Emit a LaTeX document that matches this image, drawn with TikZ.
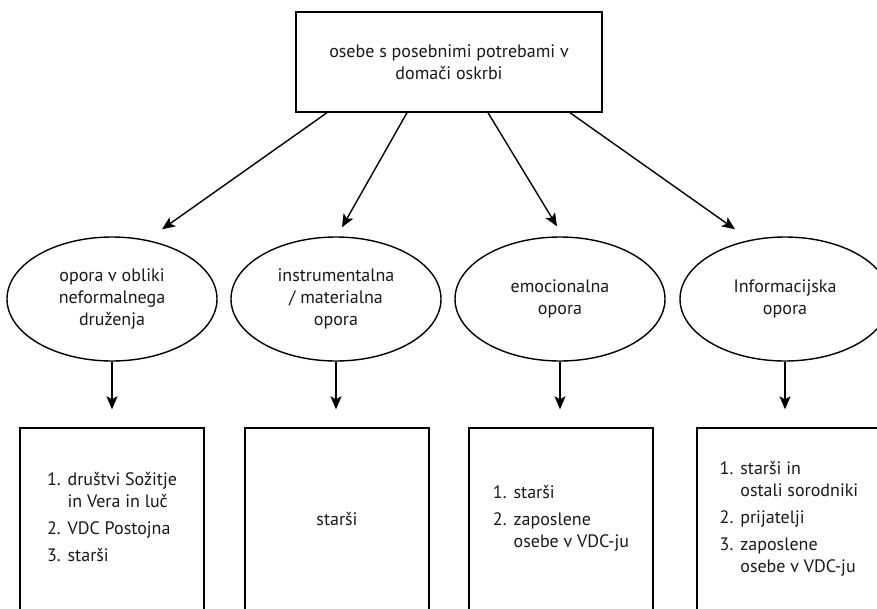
\documentclass[tikz,border=0pt]{standalone}
\usepackage{fontspec}
\setmainfont{PT Sans}
\usetikzlibrary{shapes.geometric,arrows.meta}

\tikzset{
  lbl/.style={font=\fontsize{18}{22}\selectfont, text=black!90},
  topbox/.style={draw, line width=1.4pt, minimum width=306, minimum height=100, align=center, lbl},
  oval/.style={draw, ellipse, line width=1.4pt, minimum width=210, minimum height=124, inner sep=0pt, align=center, lbl},
  listbox/.style={draw, line width=1.4pt, minimum width=184, minimum height=182, lbl},
  arr/.style={line width=1.4pt, -{Stealth[length=13pt,width=11pt,inset=3pt]}},
}
\newcommand{\itemgap}{\\[5pt]}

\begin{document}
\begin{tikzpicture}[x=1pt, y=-1pt]
  \useasboundingbox (0,0) rectangle (877,608);

  % top box
  \node[topbox] (top) at (449,62) {osebe s posebnimi potrebami v\\domači oskrbi};

  % the four kinds of support
  \node[oval] (e1) at (112,299) {opora v obliki\\neformalnega\\druženja};
  \node[oval] (e2) at (336,299) {instrumentalna\\/ materialna\\opora};
  \node[oval] (e3) at (560,299) {emocionalna\\opora};
  \node[oval] (e4) at (785,299) {Informacijska\\opora};

  % who gives it
  \node[listbox] (b1) at (112,519) {\begin{tabular}{@{}l@{\hspace{7pt}}l@{}}
      1. & društvi Sožitje\\ & in Vera in luč\itemgap
      2. & VDC Postojna\itemgap
      3. & starši\end{tabular}};
  \node[listbox] (b2) at (337,519) {starši};
  \node[listbox] (b3) at (561,519) {\begin{tabular}{@{}l@{\hspace{7pt}}l@{}}
      1. & starši\itemgap
      2. & zaposlene\\ & osebe v VDC-ju\end{tabular}};
  \node[listbox] (b4) at (789,519) {\begin{tabular}{@{}l@{\hspace{7pt}}l@{}}
      1. & starši in\\ & ostali sorodniki\itemgap
      2. & prijatelji\itemgap
      3. & zaposlene\\ & osebe v VDC-ju\end{tabular}};

  % arrows from the top box
  \draw[arr] ([xshift=-122pt]top.south) -- ([xshift=50pt,yshift=7pt]e1.north);
  \draw[arr] ([xshift=-42pt]top.south) -- ([xshift=6pt,yshift=9pt]e2.north);
  \draw[arr] ([xshift=39pt]top.south) -- ([xshift=-3pt,yshift=10pt]e3.north);
  \draw[arr] ([xshift=121pt]top.south) -- ([xshift=-50pt,yshift=7pt]e4.north);

  % arrows down to the boxes
  \foreach \i in {1,...,4}
    \draw[arr, shorten >=18pt] (e\i) -- (e\i |- b\i.north);
\end{tikzpicture}
\end{document}
